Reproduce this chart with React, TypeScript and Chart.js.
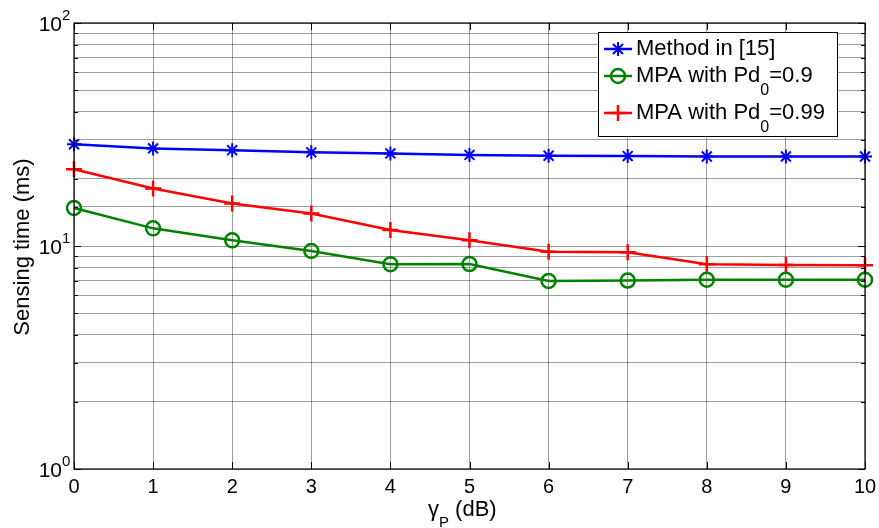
import React, { useEffect, useRef } from "react";
import { Chart, registerables } from "chart.js";

Chart.register(...registerables);

// ---------- data ----------
const gammaP = [0, 1, 2, 3, 4, 5, 6, 7, 8, 9, 10];
const methodIn15 = [28.6, 27.4, 26.9, 26.3, 26.0, 25.6, 25.4, 25.3, 25.2, 25.2, 25.2];
const mpaPd09 = [14.8, 12.0, 10.6, 9.5, 8.28, 8.3, 6.97, 7.0, 7.06, 7.06, 7.06];
const mpaPd099 = [22.1, 18.1, 15.5, 14.0, 11.8, 10.6, 9.43, 9.38, 8.28, 8.22, 8.19];
const xTickLabels = ["0", "1", "2", "3", "4", "5", "6", "7", "8", "9", "10"];
const yMajorValues = [1, 10, 100];
const yMajorExponents = ["0", "1", "2"];

type Part = { t: string; sub?: boolean };
const legendEntries: { parts: Part[]; color: string; marker: string }[] = [
  { parts: [{ t: "Method in [15]" }], color: "#0000FF", marker: "star" },
  { parts: [{ t: "MPA with Pd" }, { t: "0", sub: true }, { t: "=0.9" }], color: "#008000", marker: "circle" },
  { parts: [{ t: "MPA with Pd" }, { t: "0", sub: true }, { t: "=0.99" }], color: "#FF0000", marker: "cross" },
];

const FONT = '"Liberation Sans", Arial, sans-serif';
const GRID = "rgba(0,0,0,0.38)";

function drawMarker(ctx: CanvasRenderingContext2D, kind: string, x: number, y: number, r: number, color: string, lw: number) {
  ctx.save();
  ctx.strokeStyle = color;
  ctx.lineWidth = lw;
  ctx.beginPath();
  if (kind === "circle") {
    ctx.arc(x, y, r, 0, Math.PI * 2);
  } else if (kind === "cross") {
    ctx.moveTo(x - r, y); ctx.lineTo(x + r, y);
    ctx.moveTo(x, y - r); ctx.lineTo(x, y + r);
  } else {
    ctx.moveTo(x - r, y); ctx.lineTo(x + r, y);
    ctx.moveTo(x, y - r); ctx.lineTo(x, y + r);
    const d = r * Math.SQRT1_2;
    ctx.moveTo(x - d, y - d); ctx.lineTo(x + d, y + d);
    ctx.moveTo(x - d, y + d); ctx.lineTo(x + d, y - d);
  }
  ctx.stroke();
  ctx.restore();
}

const matlabPlugin = {
  id: "matlabDecor",
  afterDraw(chart: any) {
    const ctx: CanvasRenderingContext2D = chart.ctx;
    const { left, right, top, bottom } = chart.chartArea;
    const xs = chart.scales.x;
    const ys = chart.scales.y;
    ctx.save();
    // box
    ctx.strokeStyle = "#000";
    ctx.lineWidth = 1.2;
    ctx.strokeRect(left, top, right - left, bottom - top);
    // ticks
    ctx.lineWidth = 1;
    ctx.beginPath();
    gammaP.forEach((v) => {
      const px = Math.round(xs.getPixelForValue(v)) + 0.5;
      ctx.moveTo(px, bottom); ctx.lineTo(px, bottom - 7);
      ctx.moveTo(px, top); ctx.lineTo(px, top + 7);
    });
    ys.ticks.forEach((t: any) => {
      const v = t.value;
      const lg = Math.log10(v);
      const major = Math.abs(lg - Math.round(lg)) < 1e-9;
      const len = major ? 7 : 4;
      const py = Math.round(ys.getPixelForValue(v)) + 0.5;
      ctx.moveTo(left, py); ctx.lineTo(left + len, py);
      ctx.moveTo(right, py); ctx.lineTo(right - len, py);
    });
    ctx.stroke();

    // x tick labels
    ctx.fillStyle = "#000";
    ctx.font = `20px ${FONT}`;
    ctx.textAlign = "center";
    ctx.textBaseline = "alphabetic";
    gammaP.forEach((v, i) => {
      ctx.fillText(xTickLabels[i], xs.getPixelForValue(v), 493);
    });

    // y tick labels (10^n)
    yMajorValues.forEach((v, i) => {
      const py = ys.getPixelForValue(v);
      ctx.font = `21px ${FONT}`;
      ctx.textAlign = "right";
      ctx.fillText("10", 62, py + 8);
      ctx.font = `15px ${FONT}`;
      ctx.textAlign = "left";
      ctx.fillText(yMajorExponents[i], 62, py - 3);
    });

    // x title: gamma_P (dB)
    ctx.textAlign = "left";
    let x = 428;
    ctx.font = `22px ${FONT}`;
    ctx.fillText("\u03B3", x, 516);
    x += ctx.measureText("\u03B3").width;
    ctx.font = `15px ${FONT}`;
    ctx.fillText("P", x, 527);
    x += ctx.measureText("P").width;
    ctx.font = `22px ${FONT}`;
    ctx.fillText(" (dB)", x, 516);

    // y title
    ctx.save();
    ctx.translate(29, 247);
    ctx.rotate(-Math.PI / 2);
    ctx.textAlign = "center";
    ctx.font = `22px ${FONT}`;
    ctx.fillText("Sensing time (ms)", 0, 0);
    ctx.restore();

    // legend
    const bx = 598, by = 32, bw = 239, bh = 104;
    ctx.fillStyle = "#fff";
    ctx.fillRect(bx, by, bw, bh);
    ctx.strokeStyle = "#000";
    ctx.lineWidth = 1;
    ctx.strokeRect(bx + 0.5, by + 0.5, bw, bh);
    const baselines = [55, 82, 119];
    legendEntries.forEach((e, i) => {
      const base = baselines[i];
      const ly = base - 6;
      ctx.strokeStyle = e.color;
      ctx.lineWidth = 2.5;
      ctx.beginPath();
      ctx.moveTo(604, ly); ctx.lineTo(632, ly);
      ctx.stroke();
      drawMarker(ctx, e.marker, 618, ly, e.marker === "circle" ? 7 : e.marker === "cross" ? 8 : 7, e.color, e.marker === "star" ? 2 : 2.5);
      ctx.fillStyle = "#000";
      ctx.textAlign = "left";
      let tx = 636;
      e.parts.forEach((p) => {
        ctx.font = p.sub ? `16px ${FONT}` : `22px ${FONT}`;
        ctx.fillText(p.t, tx, p.sub ? base + 13 : base);
        tx += ctx.measureText(p.t).width;
      });
    });
    ctx.restore();
  },
};

export default function App() {
  const ref = useRef<HTMLCanvasElement | null>(null);
  useEffect(() => {
    if (!ref.current) return;
    const mk = (vals: number[]) => gammaP.map((x, i) => ({ x, y: vals[i] }));
    const chart = new Chart(ref.current, {
      type: "line",
      data: {
        datasets: [
          {
            label: "Method in [15]",
            data: mk(methodIn15),
            borderColor: "#0000FF",
            borderWidth: 2.5,
            pointStyle: "star",
            pointRadius: 7,
            pointBorderWidth: 2,
            pointBorderColor: "#0000FF",
            pointBackgroundColor: "transparent",
            tension: 0,
            clip: false,
          },
          {
            label: "MPA with Pd0=0.9",
            data: mk(mpaPd09),
            borderColor: "#008000",
            borderWidth: 2.5,
            pointStyle: "circle",
            pointRadius: 7,
            pointBorderWidth: 2.5,
            pointBorderColor: "#008000",
            pointBackgroundColor: "transparent",
            tension: 0,
            clip: false,
          },
          {
            label: "MPA with Pd0=0.99",
            data: mk(mpaPd099),
            borderColor: "#FF0000",
            borderWidth: 2.5,
            pointStyle: "cross",
            pointRadius: 8,
            pointBorderWidth: 2.5,
            pointBorderColor: "#FF0000",
            pointBackgroundColor: "transparent",
            tension: 0,
            clip: false,
          },
        ],
      },
      options: {
        animation: false,
        responsive: false,
        maintainAspectRatio: false,
        layout: { padding: { left: 0, top: 23, right: 14, bottom: 0 } },
        plugins: { legend: { display: false }, tooltip: { enabled: false } },
        scales: {
          x: {
            type: "linear",
            min: 0,
            max: 10,
            ticks: { display: false, stepSize: 1 },
            grid: { color: GRID, lineWidth: 1, drawTicks: false },
            border: { display: false },
            afterFit: (s: any) => { s.height = 59; },
          },
          y: {
            type: "logarithmic",
            min: 1,
            max: 100,
            ticks: { display: false, autoSkip: false },
            grid: { color: GRID, lineWidth: 1, drawTicks: false },
            border: { display: false },
            afterFit: (s: any) => { s.width = 74; },
          },
        },
      } as any,
      plugins: [matlabPlugin],
    });
    return () => chart.destroy();
  }, []);
  return (
    <div style={{ position: "absolute", left: 0, top: 0, width: 879, height: 528, background: "#fff" }}>
      <canvas ref={ref} width={879} height={528} style={{ display: "block" }} />
    </div>
  );
}
